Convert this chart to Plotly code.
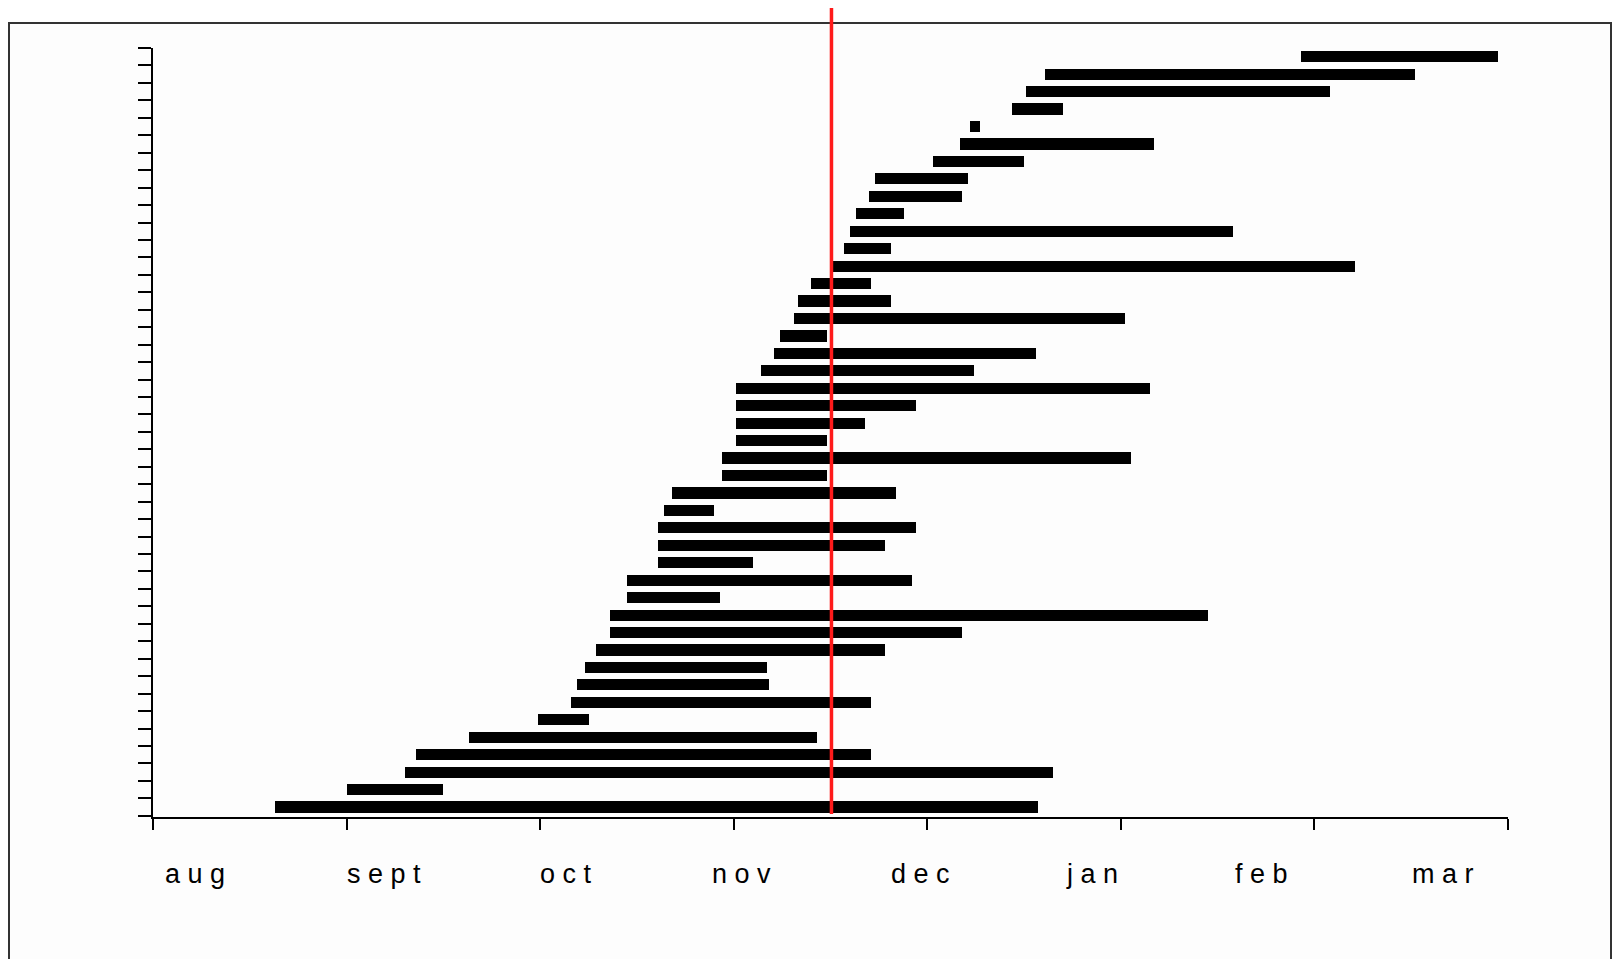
import plotly.graph_objects as go

# Month units: 0 = start of aug, 1 = sept, ... 7 = mar
month_labels = ["a u g", "s e p t", "o c t", "n o v", "d e c", "j a n", "f e b", "m a r"]
month_ticks = [0, 1, 2, 3, 4, 5, 6, 7]
label_pos = [0.218, 1.194, 2.134, 3.038, 3.963, 4.852, 5.725, 6.665]

# Bars listed from top to bottom
bar_start = [5.93, 4.61, 4.51, 4.44, 4.22, 4.17, 4.03, 3.73, 3.70, 3.63,
             3.60, 3.57, 3.51, 3.40, 3.33, 3.31, 3.24, 3.21, 3.14, 3.01,
             3.01, 3.01, 3.01, 2.94, 2.94, 2.68, 2.64, 2.61, 2.61, 2.61,
             2.45, 2.45, 2.36, 2.36, 2.29, 2.23, 2.19, 2.16, 1.99, 1.63,
             1.36, 1.30, 1.00, 0.63]
bar_end = [6.95, 6.52, 6.08, 4.70, 4.27, 5.17, 4.50, 4.21, 4.18, 3.88,
           5.58, 3.81, 6.21, 3.71, 3.81, 5.02, 3.48, 4.56, 4.24, 5.15,
           3.94, 3.68, 3.48, 5.05, 3.48, 3.84, 2.90, 3.94, 3.78, 3.10,
           3.92, 2.93, 5.45, 4.18, 3.78, 3.17, 3.18, 3.71, 2.25, 3.43,
           3.71, 4.65, 1.50, 4.57]
n = len(bar_start)
rows = list(range(n, 0, -1))
today = 3.505

# page offset of the figure inside the browser (body margin)
OFF = 8
W, H = 1621, 959
L, R, T, B = 153 - OFF, 1508 - OFF, 48 - OFF, 817 - OFF
pw, ph = R - L, B - T


def px_x(p):
    return (p - OFF - L) / pw


def px_y(p):
    return (B - (p - OFF)) / ph


fig = go.Figure()
fig.add_trace(go.Bar(
    y=rows,
    x=[e - s for s, e in zip(bar_start, bar_end)],
    base=bar_start,
    orientation="h",
    width=0.64,
    marker=dict(color="black", line=dict(width=0)),
    hoverinfo="skip",
    showlegend=False,
))

fig.update_layout(
    width=W, height=H,
    margin=dict(l=L, r=W - R, t=T, b=H - B, pad=0),
    paper_bgcolor="white",
    plot_bgcolor="#fdfdfd",
    showlegend=False,
    bargap=0,
    xaxis=dict(
        range=[0, 7],
        tickvals=month_ticks,
        ticktext=[""] * len(month_ticks),
        ticks="outside", ticklen=11, tickwidth=2, tickcolor="black",
        showline=True, linecolor="black", linewidth=2,
        showgrid=False, zeroline=False,
    ),
    yaxis=dict(
        range=[0.43, 44.5],
        tickvals=[i + 0.5 for i in range(0, n + 1)],
        showticklabels=False,
        ticks="outside", ticklen=13, tickwidth=2, tickcolor="black",
        showline=True, linecolor="black", linewidth=2,
        showgrid=False, zeroline=False,
    ),
)

# outer frame
fig.add_shape(type="rect", xref="paper", yref="paper",
              x0=px_x(9), x1=px_x(1611), y0=px_y(990), y1=px_y(23),
              line=dict(color="#333333", width=2), fillcolor="#fdfdfd",
              layer="below")

# red reference line
fig.add_shape(type="line", xref="x", yref="paper",
              x0=today, x1=today, y0=0.004, y1=px_y(4),
              line=dict(color="#ff1a1a", width=3.5), layer="above")

for lab, pos in zip(month_labels, label_pos):
    fig.add_annotation(x=pos, y=px_y(874), xref="x", yref="paper",
                       text=lab, showarrow=False,
                       xanchor="center", yanchor="middle",
                       font=dict(family="Liberation Sans, Arial, sans-serif",
                                 size=27, color="#000000"))

fig.write_html("out.html")
